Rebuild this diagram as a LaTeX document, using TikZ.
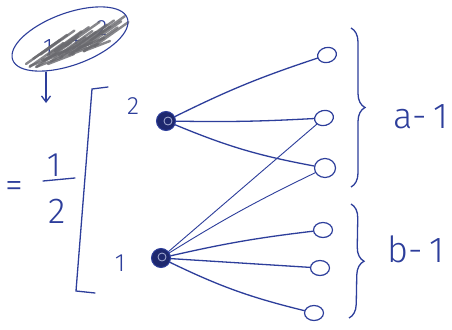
\documentclass[tikz,border=0pt]{standalone}
\usepackage{fontspec}
\setmainfont{Fira Sans Light}
\usetikzlibrary{decorations.pathreplacing,arrows.meta,shapes.geometric}
\definecolor{ink}{RGB}{45,62,155}
\definecolor{inkdark}{RGB}{30,40,110}
\definecolor{scrib}{RGB}{105,105,110}
\begin{document}
\begin{tikzpicture}[x=1pt,y=-1pt,
  ink line/.style={draw=ink,line width=1.3pt,line cap=round},
  thin ink/.style={draw=ink,line width=0.9pt,line cap=round},
  hub/.style={circle,fill=inkdark,draw=ink,line width=1pt,minimum size=19pt,inner sep=0pt},
  leaf/.style={ellipse,draw=ink,line width=1.2pt,minimum width=19pt,minimum height=15pt,inner sep=0pt},
  lbl/.style={text=ink,inner sep=0pt},
  brace deco/.style={draw=ink,line width=1.3pt,decorate,decoration={brace,amplitude=14pt}}]
\useasboundingbox (0,0) rectangle (452,329);
\fill[white] (0,0) rectangle (452,329);
% crossed-out expression
\node[lbl,font=\fontsize{24}{24}\selectfont] (e1) at (48,48) {1};
\node[lbl,font=\fontsize{20}{20}\selectfont] (e2) at (76,42) {+};
\node[lbl,font=\fontsize{22}{22}\selectfont] (e3) at (102,28) {2};
\begin{scope}[scrib,line width=2.4pt,line cap=round,opacity=0.8]
\foreach \i/\d in {0/0,1/4,2/-3,3/6,4/-5,5/2,6/-2,7/5,8/-4,9/1,10/3,11/-6,12/4,13/-1,14/2,15/-3,16/5,17/0,18/-4,19/3}{
  \draw (26+\i*3.6,64+\d-\i*1.1) -- (60+\i*3.6,40+\d-\i*1.1);
}
\foreach \i/\d in {0/0,1/3,2/-2,3/4,4/-3,5/1,6/-1,7/2,8/-2,9/3}{
  \draw (30+\i*6,66+\d-\i*2) -- (56+\i*6,56+\d-\i*2);
}
\end{scope}
\node[draw=ink,line width=1.1pt,ellipse,minimum width=122pt,minimum height=52pt,rotate=20] (oval) at (70,39) {};
\coordinate (arrowend) at (46,103);
\draw[ink line,-{Straight Barb[length=6pt,width=9pt]}] (46,72) -- (arrowend);
% = 1/2
\node[lbl,font=\fontsize{36}{36}\selectfont] (eq) at (14,190) {=};
\node[lbl,font=\fontsize{34}{34}\selectfont] (one) at (54,165) {1};
\draw[ink line] (43,181) -- (75,178);
\node[lbl,font=\fontsize{36}{36}\selectfont] (two) at (57,211) {2};
% bracket
\draw[ink line] (108,87) -- (92,89) -- (76,291) -- (95,293);
% labels
\node[lbl,font=\fontsize{25}{25}\selectfont] (l2) at (133,106) {2};
\node[lbl,font=\fontsize{25}{25}\selectfont] (l1) at (120,263) {1};
% hubs
\node[hub] (h2) at (166,121) {};
\node[circle,draw=ink!40,line width=0.8pt,minimum size=8pt,inner sep=0pt] at (168,121) {};
\node[hub] (h1) at (161,258) {};
\node[circle,draw=ink!40,line width=0.8pt,minimum size=8pt,inner sep=0pt] at (162,257) {};
% leaves
\node[leaf,rotate=15] (a1) at (327,55) {};
\node[leaf,rotate=15] (a2) at (324,118) {};
\node[leaf,minimum width=21pt,minimum height=19pt] (a3) at (325,168) {};
\node[leaf] (b1) at (323,230) {};
\node[leaf] (b2) at (320,268) {};
\node[leaf] (b3) at (314,313) {};
% edges from hub 2
\draw[ink line] (h2) to[bend left=4] (a1);
\draw[ink line] (h2) to[bend right=2] (a2);
\draw[ink line] (h2) to[bend right=6] (a3);
% edges from hub 1
\draw[thin ink] (h1) -- (a2);
\draw[thin ink] (h1) to[bend left=3] (a3);
\draw[ink line] (h1) to[bend left=3] (b1);
\draw[ink line] (h1) -- (b2);
\draw[ink line] (h1) to[bend right=6] (b3);
% braces
\draw[brace deco] (351,28) -- (351,187);
\draw[brace deco] (351,204) -- (349,318);
\node[lbl,font=\fontsize{36}{36}\selectfont] (ga) at (421,117) {a-\,1};
\node[lbl,font=\fontsize{36}{36}\selectfont] (gb) at (416,249) {b-\,1};
\end{tikzpicture}
\end{document}
